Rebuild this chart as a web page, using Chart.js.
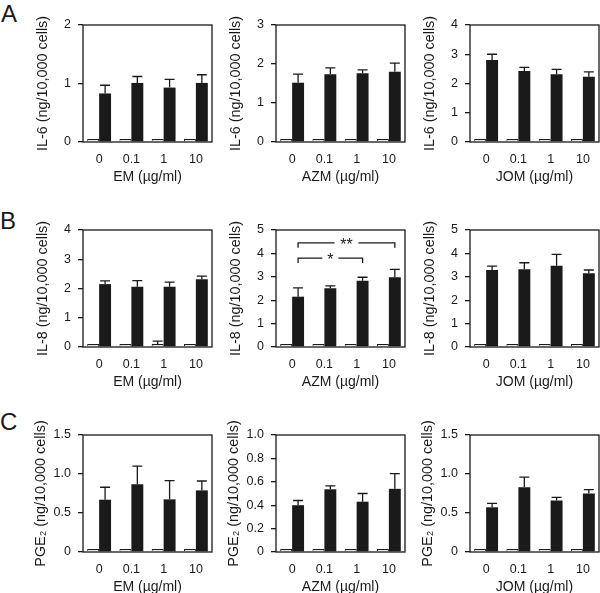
<!DOCTYPE html>
<html>
<head>
<meta charset="utf-8">
<script src="https://cdn.jsdelivr.net/npm/chart.js@4.4.1/dist/chart.umd.min.js"></script>
<style>
  body { margin: 0; background: #fff; }
  #wrap { position: relative; width: 600px; height: 593px; overflow: hidden; }
  canvas { position: absolute; }
  .panel { position: absolute; font: 24px "Liberation Sans", Arial, sans-serif; line-height: 1; color: #1a1a1a; }
</style>
</head>
<body>
<div id="wrap">
  <div class="panel" style="left:1px;top:2px">A</div>
  <div class="panel" style="left:0px;top:209px">B</div>
  <div class="panel" style="left:0px;top:410px">C</div>
</div>
<script>
// x categories and drugs
const doses = ['0', '0.1', '1', '10'];
const drugs = ['EM', 'AZM', 'JOM'];

// IL-6 (row A), one inner array per drug: EM, AZM, JOM
const il6Ctrl = [[0.03, 0.01, 0.02, 0.03], [0.04, 0.04, 0.04, 0.06], [0.05, 0.06, 0.03, 0.05]];
const il6CtrlSem = [[0, 0, 0, 0], [0, 0, 0, 0], [0, 0, 0, 0]];
const il6Stim = [[0.83, 1.01, 0.93, 1.01], [1.52, 1.74, 1.76, 1.80], [2.80, 2.43, 2.32, 2.23]];
const il6StimSem = [[0.14, 0.11, 0.14, 0.14], [0.22, 0.16, 0.09, 0.22], [0.20, 0.12, 0.16, 0.17]];
const il6Ticks = [['0', '1', '2'], ['0', '1', '2', '3'], ['0', '1', '2', '3', '4']];

// IL-8 (row B)
const il8Ctrl = [[0.03, 0.02, 0.10, 0.03], [0.03, 0.03, 0.03, 0.03], [0.03, 0.03, 0.03, 0.03]];
const il8CtrlSem = [[0, 0, 0.10, 0], [0, 0, 0, 0], [0, 0, 0, 0]];
const il8Stim = [[2.15, 2.06, 2.06, 2.32], [2.15, 2.51, 2.83, 2.98], [3.29, 3.32, 3.47, 3.15]];
const il8StimSem = [[0.11, 0.21, 0.16, 0.10], [0.38, 0.10, 0.15, 0.34], [0.17, 0.28, 0.49, 0.14]];
const il8Ticks = [['0', '1', '2', '3', '4'], ['0', '1', '2', '3', '4', '5'], ['0', '1', '2', '3', '4', '5']];
// significance brackets on the AZM panel (category index from/to, height in data units)
const il8AzmSig = [
  { from: 0, to: 2, level: 3.8, text: '*' },
  { from: 0, to: 3, level: 4.45, text: '**' }
];

// PGE2 (row C)
const pge2Ctrl = [[0.03, 0.03, 0.02, 0.03], [0.025, 0.015, 0.02, 0.02], [0.03, 0.03, 0.03, 0.02]];
const pge2CtrlSem = [[0, 0, 0, 0], [0, 0, 0, 0], [0, 0, 0, 0]];
const pge2Stim = [[0.67, 0.87, 0.675, 0.79], [0.40, 0.536, 0.43, 0.54], [0.573, 0.83, 0.66, 0.75]];
const pge2StimSem = [[0.16, 0.23, 0.24, 0.12], [0.04, 0.03, 0.07, 0.13], [0.05, 0.13, 0.04, 0.05]];
const pge2Ticks = [['0', '0.5', '1.0', '1.5'], ['0', '0.2', '0.4', '0.6', '0.8', '1.0'], ['0', '0.5', '1.0', '1.5']];

Chart.defaults.font.family = '"Liberation Sans", Arial, Helvetica, sans-serif';
Chart.defaults.color = '#1a1a1a';

const INK = '#1a1a1a';

// box around plot, error bars (upper only) and significance brackets
const extras = {
  id: 'extras',
  afterDatasetsDraw(chart, args, opts) {
    const { ctx, chartArea: a } = chart;
    const y = chart.scales.y;
    ctx.save();
    ctx.strokeStyle = INK;
    ctx.lineWidth = 1.3;
    chart.data.datasets.forEach((ds, di) => {
      const meta = chart.getDatasetMeta(di);
      meta.data.forEach((bar, i) => {
        const e = ds.errors[i];
        if (!e) return;
        const top = y.getPixelForValue(ds.data[i] + e);
        ctx.beginPath();
        ctx.moveTo(bar.x, bar.y);
        ctx.lineTo(bar.x, top);
        ctx.moveTo(bar.x - 5, top);
        ctx.lineTo(bar.x + 5, top);
        ctx.stroke();
      });
    });
    ctx.strokeRect(a.left, a.top, a.right - a.left, a.bottom - a.top);

    const sig = opts.sig || [];
    const stimMeta = chart.getDatasetMeta(1);
    ctx.font = '16px "Liberation Sans", Arial, sans-serif';
    ctx.fillStyle = INK;
    ctx.textAlign = 'center';
    ctx.textBaseline = 'middle';
    sig.forEach(s => {
      const x1 = stimMeta.data[s.from].x;
      const x2 = stimMeta.data[s.to].x;
      const yy = y.getPixelForValue(s.level);
      const mid = (x1 + x2) / 2;
      const gap = s.text.length * 4 + 4;
      ctx.beginPath();
      ctx.moveTo(x1, yy + 5);
      ctx.lineTo(x1, yy);
      ctx.lineTo(mid - gap, yy);
      ctx.moveTo(mid + gap, yy);
      ctx.lineTo(x2, yy);
      ctx.lineTo(x2, yy + 5);
      ctx.stroke();
      ctx.fillText(s.text, mid, yy + 3);
    });
    ctx.restore();
  }
};

const rows = [
  { top: 0, name: 'IL-6', ctrl: il6Ctrl, ctrlSem: il6CtrlSem, stim: il6Stim, stimSem: il6StimSem, ticks: il6Ticks, titlePad: 34 },
  { top: 205, name: 'IL-8', ctrl: il8Ctrl, ctrlSem: il8CtrlSem, stim: il8Stim, stimSem: il8StimSem, ticks: il8Ticks, titlePad: 34, sig: { 1: il8AzmSig } },
  { top: 410, name: 'PGE\u2082', ctrl: pge2Ctrl, ctrlSem: pge2CtrlSem, stim: pge2Stim, stimSem: pge2StimSem, ticks: pge2Ticks, titlePad: 32 }
];
const colLeft = [0, 193, 387];

const wrap = document.getElementById('wrap');

rows.forEach(row => {
  drugs.forEach((drug, c) => {
    const cv = document.createElement('canvas');
    cv.width = 214;
    cv.height = 190;
    cv.style.left = colLeft[c] + 'px';
    cv.style.top = row.top + 'px';
    wrap.appendChild(cv);

    const labels = row.ticks[c];
    const tickVals = labels.map(Number);

    new Chart(cv, {
      type: 'bar',
      data: {
        labels: doses,
        datasets: [
          {
            data: row.ctrl[c], errors: row.ctrlSem[c],
            backgroundColor: '#e6e6e6', borderColor: INK, borderWidth: 1,
            minBarLength: 3,
            categoryPercentage: 0.74, barPercentage: 1.0
          },
          {
            data: row.stim[c], errors: row.stimSem[c],
            backgroundColor: INK, borderColor: INK, borderWidth: 0,
            categoryPercentage: 0.74, barPercentage: 1.0
          }
        ]
      },
      options: {
        responsive: false,
        animation: false,
        events: [],
        layout: { padding: { top: 25, right: 2, left: 0, bottom: 0 } },
        plugins: {
          legend: { display: false },
          tooltip: { enabled: false },
          extras: { sig: row.sig ? row.sig[c] : null }
        },
        scales: {
          x: {
            grid: { display: false },
            border: { display: false },
            ticks: { font: { size: 12.5 }, padding: 2, maxRotation: 0 },
            title: {
              display: true, text: drug + ' (\u00b5g/ml)',
              font: { size: 14 }, padding: { top: 0, bottom: 4 }
            },
            afterFit: s => { s.height = 48; }
          },
          y: {
            min: 0,
            max: tickVals[tickVals.length - 1],
            afterBuildTicks: s => { s.ticks = tickVals.map(v => ({ value: v })); },
            ticks: { font: { size: 12.5 }, padding: 7, callback: (v, i) => labels[i] },
            grid: { drawOnChartArea: false, tickLength: 5, color: INK, lineWidth: 1.3 },
            border: { display: false },
            title: {
              display: true, text: row.name + ' (ng/10,000 cells)',
              font: { size: 14.4 }, padding: { top: row.titlePad, bottom: 0 }
            },
            afterFit: s => { s.width = 83; }
          }
        }
      },
      plugins: [extras]
    });
  });
});
</script>
</body>
</html>
